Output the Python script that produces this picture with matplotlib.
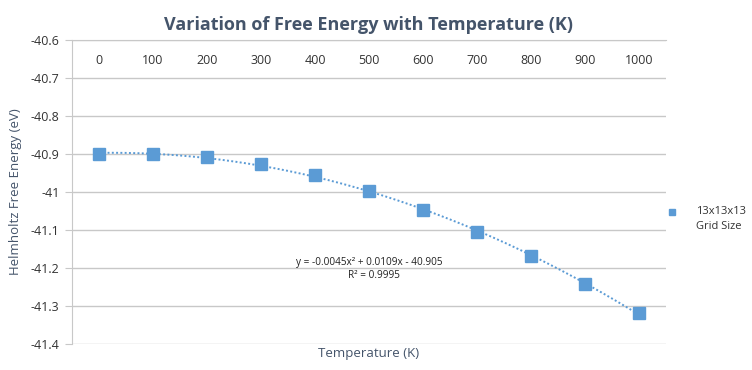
import numpy as np
import matplotlib
matplotlib.use('Agg')
import matplotlib.pyplot as plt
import matplotlib.transforms as mtransforms

plt.rcParams['font.family'] = ['Open Sans', 'DejaVu Sans']

# Data
temperatures = ['0', '100', '200', '300', '400', '500', '600', '700', '800', '900', '1000']
free_energy = [-40.900, -40.901, -40.908, -40.927, -40.956, -40.998,
               -41.048, -41.106, -41.169, -41.241, -41.318]
series_name = '13x13x13\nGrid Size'
trend_eq = 'y = -0.0045x² + 0.0109x - 40.905'
trend_r2 = 'R² = 0.9995'

blue = '#5B9BD5'
grid_col = '#C8C8C8'
text_col = '#44546A'

fig = plt.figure(figsize=(7.52, 3.70), dpi=100)
ax = fig.add_axes([72 / 752, 26 / 370, 594 / 752, 304 / 370])

# category positions 1..11, like Excel's trendline x
x = np.arange(1, len(temperatures) + 1)
ax.plot(x, free_energy, linestyle='none', marker='s', markersize=8,
        color=blue, zorder=3)

# 2nd order polynomial trendline
coef = np.polyfit(x, free_energy, 2)
xs = np.linspace(x[0], x[-1], 200)
ax.plot(xs, np.polyval(coef, xs), linestyle=(0, (1, 1.2)), linewidth=1.4,
        color=blue, zorder=2)

ax.set_xlim(0.5, len(temperatures) + 0.5)
ax.set_ylim(-41.4, -40.6)
ax.set_yticks(np.arange(-41.4, -40.55, 0.1))
ax.set_yticklabels(['%g' % round(v, 1) for v in np.arange(-41.4, -40.55, 0.1)])
ax.yaxis.grid(True, color=grid_col, linewidth=1)
ax.set_axisbelow(True)
ax.set_xticks([])
for s in ['right', 'bottom']:
    ax.spines[s].set_visible(False)
ax.spines['left'].set_color(grid_col)
ax.spines['top'].set_color(grid_col)
ax.tick_params(axis='y', length=5, color=grid_col, labelsize=9, labelcolor='#333333', pad=4)

# category labels sit just under the top axis line
trans = mtransforms.blended_transform_factory(ax.transData, ax.transAxes)
for xi, lab in zip(x, temperatures):
    ax.text(xi, 1 - 20 / 304, lab, transform=trans, ha='center', va='center',
            fontsize=9, color='#333333')

ax.text(6, -41.185, trend_eq, ha='center', va='center', fontsize=7.2, color='#222222')
ax.text(6.1, -41.22, trend_r2, ha='center', va='center', fontsize=7.2, color='#222222')

fig.text(369 / 752, 1 - 25 / 370, 'Variation of Free Energy with Temperature (K)',
         ha='center', va='center', fontsize=13, fontweight='bold', color=text_col)
fig.text(369 / 752, 1 - 354 / 370, 'Temperature (K)', ha='center', va='center',
         fontsize=9.5, color=text_col)
fig.text(16 / 752, 1 - 192 / 370, 'Helmholtz Free Energy (eV)', ha='center', va='center',
         rotation=90, fontsize=9.5, color=text_col)

# legend
fig.lines.append(plt.Line2D([672 / 752], [1 - 212 / 370], transform=fig.transFigure,
                            marker='s', markersize=5, color=blue, linestyle='none'))
fig.text(696 / 752, 1 - 219 / 370, series_name, ha='left', va='center',
         fontsize=8, color='#333333', linespacing=1.5)

fig.savefig('out.png', dpi=100)
